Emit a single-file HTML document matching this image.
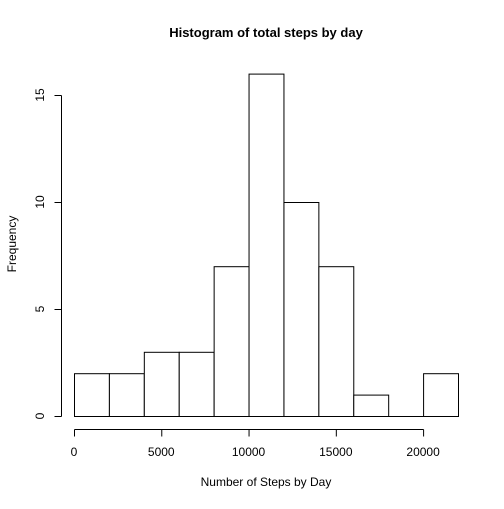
<!DOCTYPE html>
<html><head><meta charset="utf-8"><style>
body{margin:0;background:#fff}
svg text{font-family:"Liberation Sans",Arial,sans-serif;fill:#000}
</style></head><body>
<svg id="chart" width="504" height="504" xmlns="http://www.w3.org/2000/svg">
<rect width="504" height="504" fill="#fff"/>
<text x="266" y="37" font-size="13" font-weight="bold" text-anchor="middle">Histogram of total steps by day</text>
<text x="266" y="486" font-size="12" text-anchor="middle">Number of Steps by Day</text>
<text x="0" y="0" font-size="12" text-anchor="middle" transform="translate(16,244) rotate(-90)">Frequency</text>
<g id="bars"></g><g id="xaxis"></g><g id="yaxis"></g>
</svg>
<script>
const binStarts=[0,2000,4000,6000,8000,10000,12000,14000,16000,18000,20000];
const binWidth=2000;
const counts=[2,2,3,3,7,16,10,7,1,0,2];
const xTicks=[0,5000,10000,15000,20000];
const yTicks=[0,5,10,15];
const NS="http://www.w3.org/2000/svg";
const sx=v=>74+v*(384/22000);
const sy=v=>416-v*(107/5);
function mk(t,a,p){const e=document.createElementNS(NS,t);for(const k in a)e.setAttribute(k,a[k]);p.appendChild(e);return e;}
const bars=document.getElementById('bars');
binStarts.forEach((b,i)=>{
 let r;
 if(counts[i]===0){
  r=mk('line',{x1:sx(b)+0.5,x2:sx(b+binWidth)+0.5,y1:sy(0)+0.5,y2:sy(0)+0.5,stroke:'#000','stroke-width':1},bars);
 }else{
  r=mk('rect',{x:sx(b)+0.5,y:sy(counts[i])+0.5,width:sx(b+binWidth)-sx(b),height:sy(0)-sy(counts[i]),fill:'#fff',stroke:'#000','stroke-width':1},bars);
 }
 
 
});
const xa=document.getElementById('xaxis');
mk('line',{x1:sx(xTicks[0])+0.5,x2:sx(xTicks[xTicks.length-1])+0.5,y1:429.5,y2:429.5,stroke:'#000'},xa);
xTicks.forEach(t=>{
 mk('line',{x1:sx(t)+0.5,x2:sx(t)+0.5,y1:429.5,y2:436.5,stroke:'#000'},xa);
 const tx=mk('text',{x:sx(t),y:456,'font-size':12,'text-anchor':'middle'},xa);tx.textContent=t;
 
 
});
const ya=document.getElementById('yaxis');
mk('line',{x1:61.5,x2:61.5,y1:sy(yTicks[0])+0.5,y2:sy(yTicks[yTicks.length-1])+0.5,stroke:'#000'},ya);
yTicks.forEach(t=>{
 mk('line',{x1:54.5,x2:61.5,y1:sy(t)+0.5,y2:sy(t)+0.5,stroke:'#000'},ya);
 const tx=mk('text',{x:0,y:0,'font-size':12,'text-anchor':'middle',transform:`translate(44,${sy(t)}) rotate(-90)`},ya);tx.textContent=t;
 
 
});
</script>
</body></html>
